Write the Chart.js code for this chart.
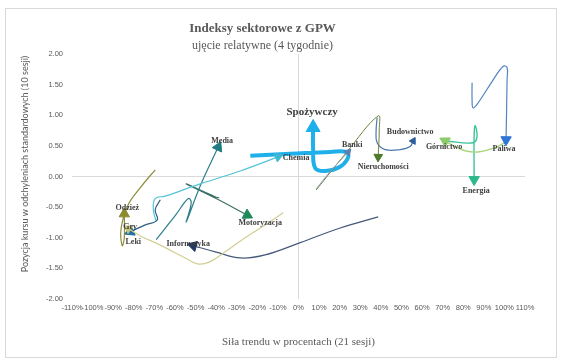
<!DOCTYPE html>
<html><head><meta charset="utf-8">
<script src="https://cdn.jsdelivr.net/npm/chart.js@4.4.1/dist/chart.umd.min.js"></script>
<style>html,body{margin:0;padding:0;background:#fff}canvas{display:block}</style>
</head><body>
<canvas id="c" width="564" height="364" style="width:564px;height:364px"></canvas>
<script>
// ---- DATA (x: trend strength in %, y: position in std deviations) ----
const sectorNames = ['Gry','Odzież','Leki','Chemia','Media','Motoryzacja','Informatyka','Banki','Nieruchomości','Budownictwo','Paliwa','Górnictwo','Energia','Spożywczy'];
const gry = [[-7.4,-0.59],[-16.2,-0.79],[-25.9,-1.00],[-35.6,-1.23],[-42.9,-1.39],[-48.7,-1.43],[-55.0,-1.33],[-67.1,-1.12],[-76.8,-0.97],[-82.7,-0.85]];
const odziez = [[-69.6,0.11],[-76.8,-0.18],[-82.7,-0.46],[-86.1,-0.84],[-85.6,-1.13],[-84.6,-1.00],[-84.6,-0.61]];
const leki = [[-67.1,-0.38],[-69.6,-0.54],[-68.6,-0.71],[-74.4,-0.79],[-81.7,-0.90]];
const chemia = [[-69.1,-0.74],[-70.5,-0.54],[-69.6,-0.36],[-64.7,-0.32],[-47.7,-0.12],[-28.3,0.09],[-9.9,0.32]];
const media = [[-69.1,-1.03],[-59.9,-0.64],[-53.5,-0.36],[-52.1,-0.43],[-54.5,-0.74],[-47.7,-0.15],[-39.0,0.48]];
const motoryzacja = [[-38.5,-0.35],[-40.5,-0.33],[-54.5,-0.12],[-40.0,-0.36],[-24.9,-0.63]];
const informatyka = [[38.7,-0.66],[20.2,-0.84],[0.8,-1.08],[-16.2,-1.28],[-28.3,-1.33],[-40.4,-1.23],[-51.1,-1.13]];
const banki = [[8.6,-0.20],[15.4,0.08],[24.1,0.40]];
const nieruchomosci = [[8.6,-0.22],[23.0,0.38],[38.7,0.99],[39.2,0.76],[38.7,0.32]];
const budownictwo = [[38.2,0.96],[37.7,0.76],[38.2,0.55],[42.1,0.44],[49.4,0.44],[54.2,0.49],[55.7,0.58]];
const paliwa = [[84.3,1.53],[84.3,1.25],[84.8,1.12],[87.2,1.20],[94.0,1.55],[99.4,1.80],[101.3,1.78],[101.3,1.58],[100.8,0.60]];
const gornictwo = [[101.3,0.58],[95.5,0.47],[87.2,0.40],[80.9,0.42],[76.0,0.49],[71.2,0.58]];
const energia = [[71.7,0.58],[84.8,0.55],[86.7,0.65],[85.8,0.83],[85.3,0.68],[85.3,-0.05]];
const spozywczy = [[-23.4,0.34],[-4.0,0.37],[15.4,0.40],[23.2,0.40],[24.1,0.31],[20.2,0.16],[13.0,0.09],[8.1,0.14],[7.1,0.44],[7.1,0.80]];
const seriesValues = [gry,odziez,leki,chemia,media,motoryzacja,informatyka,banki,nieruchomosci,budownictwo,paliwa,gornictwo,energia,spozywczy];

// ---- STYLES ----
const lineColors  = ['#D2CE94','#8E8C3E','#2F5F7E','#52C4D8','#2E7F8A','#3C6F66','#46597A','#8FA0B8','#6F7F3A','#4A78AE','#5485C0','#A8D67E','#3DC49B','#1FB0EA'];
const arrowColors = ['#C9C47C','#8B8B2E','#1F70A8','#3FB8CF','#217C82','#1E8A5A','#1F3864','#5B7FB0','#4E7A2E','#2E5D9A','#2E75D6','#8CCB6A','#2BB88A','#1FB0EA'];
const lineWidths  = [1.2,1.2,1.2,1.2,1.2,1.2,1.2,1.0,1.0,1.2,1.2,1.4,1.4,4];
const arrowSizes  = [5,6,6,5,6,6,6,4,5,4,6,6,6,8];
const labelOffsets = [[2,-2],[3,-6],[3,10],[18,1],[4,-6],[13,8],[-5,-2],[4,-7],[5,10],[-3,-9],[-2,9],[-1,6],[2,11],[-1,-15]];
const labelSizes = [8,8,8,8,8,8,8,8,8,8,8,8,8,11];

function arrowAngle(ctx){
  const d = ctx.chart.data.datasets[ctx.datasetIndex].data;
  const i = ctx.dataIndex;
  const xs = ctx.chart.scales.x, ys = ctx.chart.scales.y;
  if (!xs || !ys || i < 1) return 0;
  const dx = xs.getPixelForValue(d[i].x) - xs.getPixelForValue(d[i-1].x);
  const dy = ys.getPixelForValue(d[i].y) - ys.getPixelForValue(d[i-1].y);
  return Math.atan2(dx, -dy) * 180 / Math.PI;
}

const frame = {
  id:'frame',
  beforeDraw(chart){
    const c = chart.ctx;
    c.save();
    c.fillStyle = '#fff'; c.fillRect(0,0,chart.width,chart.height);
    c.strokeStyle = '#d9d9d9'; c.lineWidth = 1;
    c.strokeRect(5.5,8.5,551,349);
    // y axis title
    c.translate(25,164); c.rotate(-Math.PI/2);
    c.fillStyle = '#595959'; c.font = '9px Lato';
    c.textAlign = 'center'; c.textBaseline = 'middle';
    c.fillText('Pozycja kursu w odchyleniach standardowych (10 sesji)', 0, 0);
    c.restore();
  }
};
const labels = {
  id:'sectorLabels',
  afterDatasetsDraw(chart){
    const c = chart.ctx;
    c.save();
    c.textAlign='center'; c.textBaseline='middle'; c.fillStyle='#404040';
    chart.data.datasets.forEach((ds, i) => {
      const meta = chart.getDatasetMeta(i);
      const el = meta.data[meta.data.length-1];
      const o = labelOffsets[i];
      c.font = 'bold ' + labelSizes[i] + 'px "Liberation Serif"';
      c.fillText(sectorNames[i], el.x + o[0], el.y + o[1]);
    });
    c.restore();
  }
};

new Chart(document.getElementById('c'), {
  type:'line',
  data:{
    datasets: seriesValues.map((vals, i) => ({
      label: sectorNames[i],
      data: vals.map(p => ({x:p[0], y:p[1]})),
      borderColor: lineColors[i],
      borderWidth: lineWidths[i],
      tension: 0.4,
      fill:false,
      pointStyle:'triangle',
      pointRadius: ctx => ctx.dataIndex === vals.length-1 ? arrowSizes[i] : 0,
      pointHoverRadius: 0,
      pointBackgroundColor: arrowColors[i],
      pointBorderColor: arrowColors[i],
      pointBorderWidth: 1,
      pointRotation: arrowAngle
    }))
  },
  options:{
    responsive:false,
    animation:false,
    devicePixelRatio:1,
    layout:{padding:{left:0,right:39,top:0,bottom:0}},
    plugins:{
      legend:{display:false},
      tooltip:{enabled:false},
      title:{display:true,text:'Indeksy sektorowe z GPW',color:'#595959',
        font:{family:'Liberation Serif',size:13,weight:'bold',lineHeight:1.2},padding:{top:21,bottom:0}},
      subtitle:{display:true,text:'ujęcie relatywne (4 tygodnie)',color:'#595959',
        font:{family:'Liberation Serif',size:12,lineHeight:1.2},padding:{top:2,bottom:1}}
    },
    scales:{
      x:{type:'linear',min:-110,max:110,
        afterFit(s){ s.height = 65; },
        border:{display:false},
        grid:{drawTicks:false,color:c => c.tick && c.tick.value===0 ? '#d9d9d9' : 'transparent'},
        ticks:{stepSize:10,autoSkip:false,maxRotation:0,padding:4,color:'#595959',
          font:{family:'Liberation Sans',size:7.5},callback:v => v + '%'},
        title:{display:true,text:'Siła trendu w procentach (21 sesji)',color:'#595959',
          font:{family:'Liberation Serif',size:11},padding:{top:0,bottom:15}}
      },
      y:{type:'linear',min:-2,max:2,
        afterFit(s){ s.width = 72; },
        border:{display:false},
        grid:{drawTicks:false,color:c => c.tick && c.tick.value===0 ? '#d9d9d9' : 'transparent'},
        ticks:{stepSize:0.5,padding:9,color:'#595959',
          font:{family:'Liberation Sans',size:7.5},callback:v => Number(v).toFixed(2)}
      }
    }
  },
  plugins:[frame,labels]
});
</script>
</body></html>
